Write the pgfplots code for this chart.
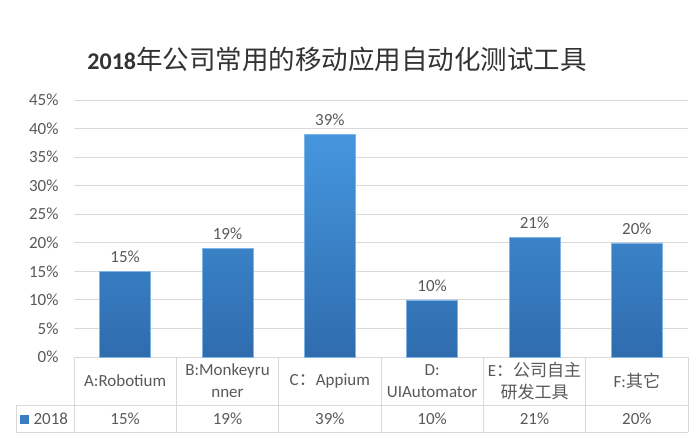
\documentclass[border=0pt]{standalone}
\usepackage{fontspec}
\setmainfont{Carlito}
\newfontfamily\cjk{Noto Sans CJK SC}
\usepackage{pgfplots}
\pgfplotsset{compat=1.18}

\definecolor{txt}{HTML}{595959}
\definecolor{gridc}{HTML}{D9D9D9}
\definecolor{bartop}{HTML}{4596DE}
\definecolor{barbot}{HTML}{2F6CAE}
\definecolor{barmid}{HTML}{3A7DC6}

\begin{document}
\begin{tikzpicture}[x=1pt,y=1pt]
\useasboundingbox (-74,-81) rectangle (624,357);
\begin{axis}[
    at={(0,0)}, anchor=south west,
    scale only axis, width=614pt, height=257pt,
    xmin=-0.5, xmax=5.5, ymin=0, ymax=45,
    clip=false,
    axis line style={draw=none},
    tick style={draw=none},
    ymajorgrids, grid style={gridc, line width=0.8pt},
    ytick={0,5,...,45},
    yticklabel={\pgfmathprintnumber{\tick}\%},
    /pgf/number format/assume math mode=true,
    yticklabel style={font=\fontsize{17}{19}\selectfont, text=txt, xshift=-12pt},
    xtick={0,...,5},
    xticklabels={
        A:Robotium,
        B:Monkeyru\\nner,
        {C{\cjk ：}Appium},
        D:\\UIAutomator,
        {E{\cjk ：公司自主}\\{\cjk 研发工具}},
        {F:{\cjk 其它}}},
    xticklabel style={font=\fontsize{17}{22}\selectfont, text=txt, align=center, anchor=center, yshift=-24pt},
]
\addplot[ybar, bar width=51pt, top color=bartop, bottom color=barbot, draw=bartop!70!white,
    nodes near coords={\pgfmathprintnumber{\pgfplotspointmeta}\%},
    every node near coord/.append style={font=\fontsize{17}{19}\selectfont, text=txt, anchor=south, yshift=5pt}]
    coordinates {(0,15) (1,19) (2,39) (3,10) (4,21) (5,20)};
% value row of the data table
\addplot[draw=none, mark=none, nodes near coords, point meta=explicit symbolic,
    every node near coord/.append style={font=\fontsize{17}{19}\selectfont, text=txt, anchor=center}]
    coordinates {(0,-10.86) [15\%] (1,-10.86) [19\%] (2,-10.86) [39\%] (3,-10.86) [10\%] (4,-10.86) [21\%] (5,-10.86) [20\%]};
\end{axis}
% data table grid
\draw[gridc, line width=0.8pt]
    (-58,-48) -- (614,-48)
    (-58,-75) -- (614,-75)
    (-58,-48) -- (-58,-75);
\foreach \xx in {0,102.33,204.67,307,409.33,511.67,614}
    \draw[gridc, line width=0.8pt] (\xx,0) -- (\xx,-75);
\fill[barmid] (-54,-67) rectangle (-45,-58);
\node[anchor=west, text=txt, font=\fontsize{17}{19}\selectfont] at (-44,-62) {2018};
% title
\node[text=black!80, anchor=center] at (263,298)
    {\fontsize{24}{30}\selectfont\bfseries 2018{\cjk\mdseries\fontsize{26.5}{32}\selectfont 年公司常用的移动应用自动化测试工具}};
\end{tikzpicture}
\end{document}
